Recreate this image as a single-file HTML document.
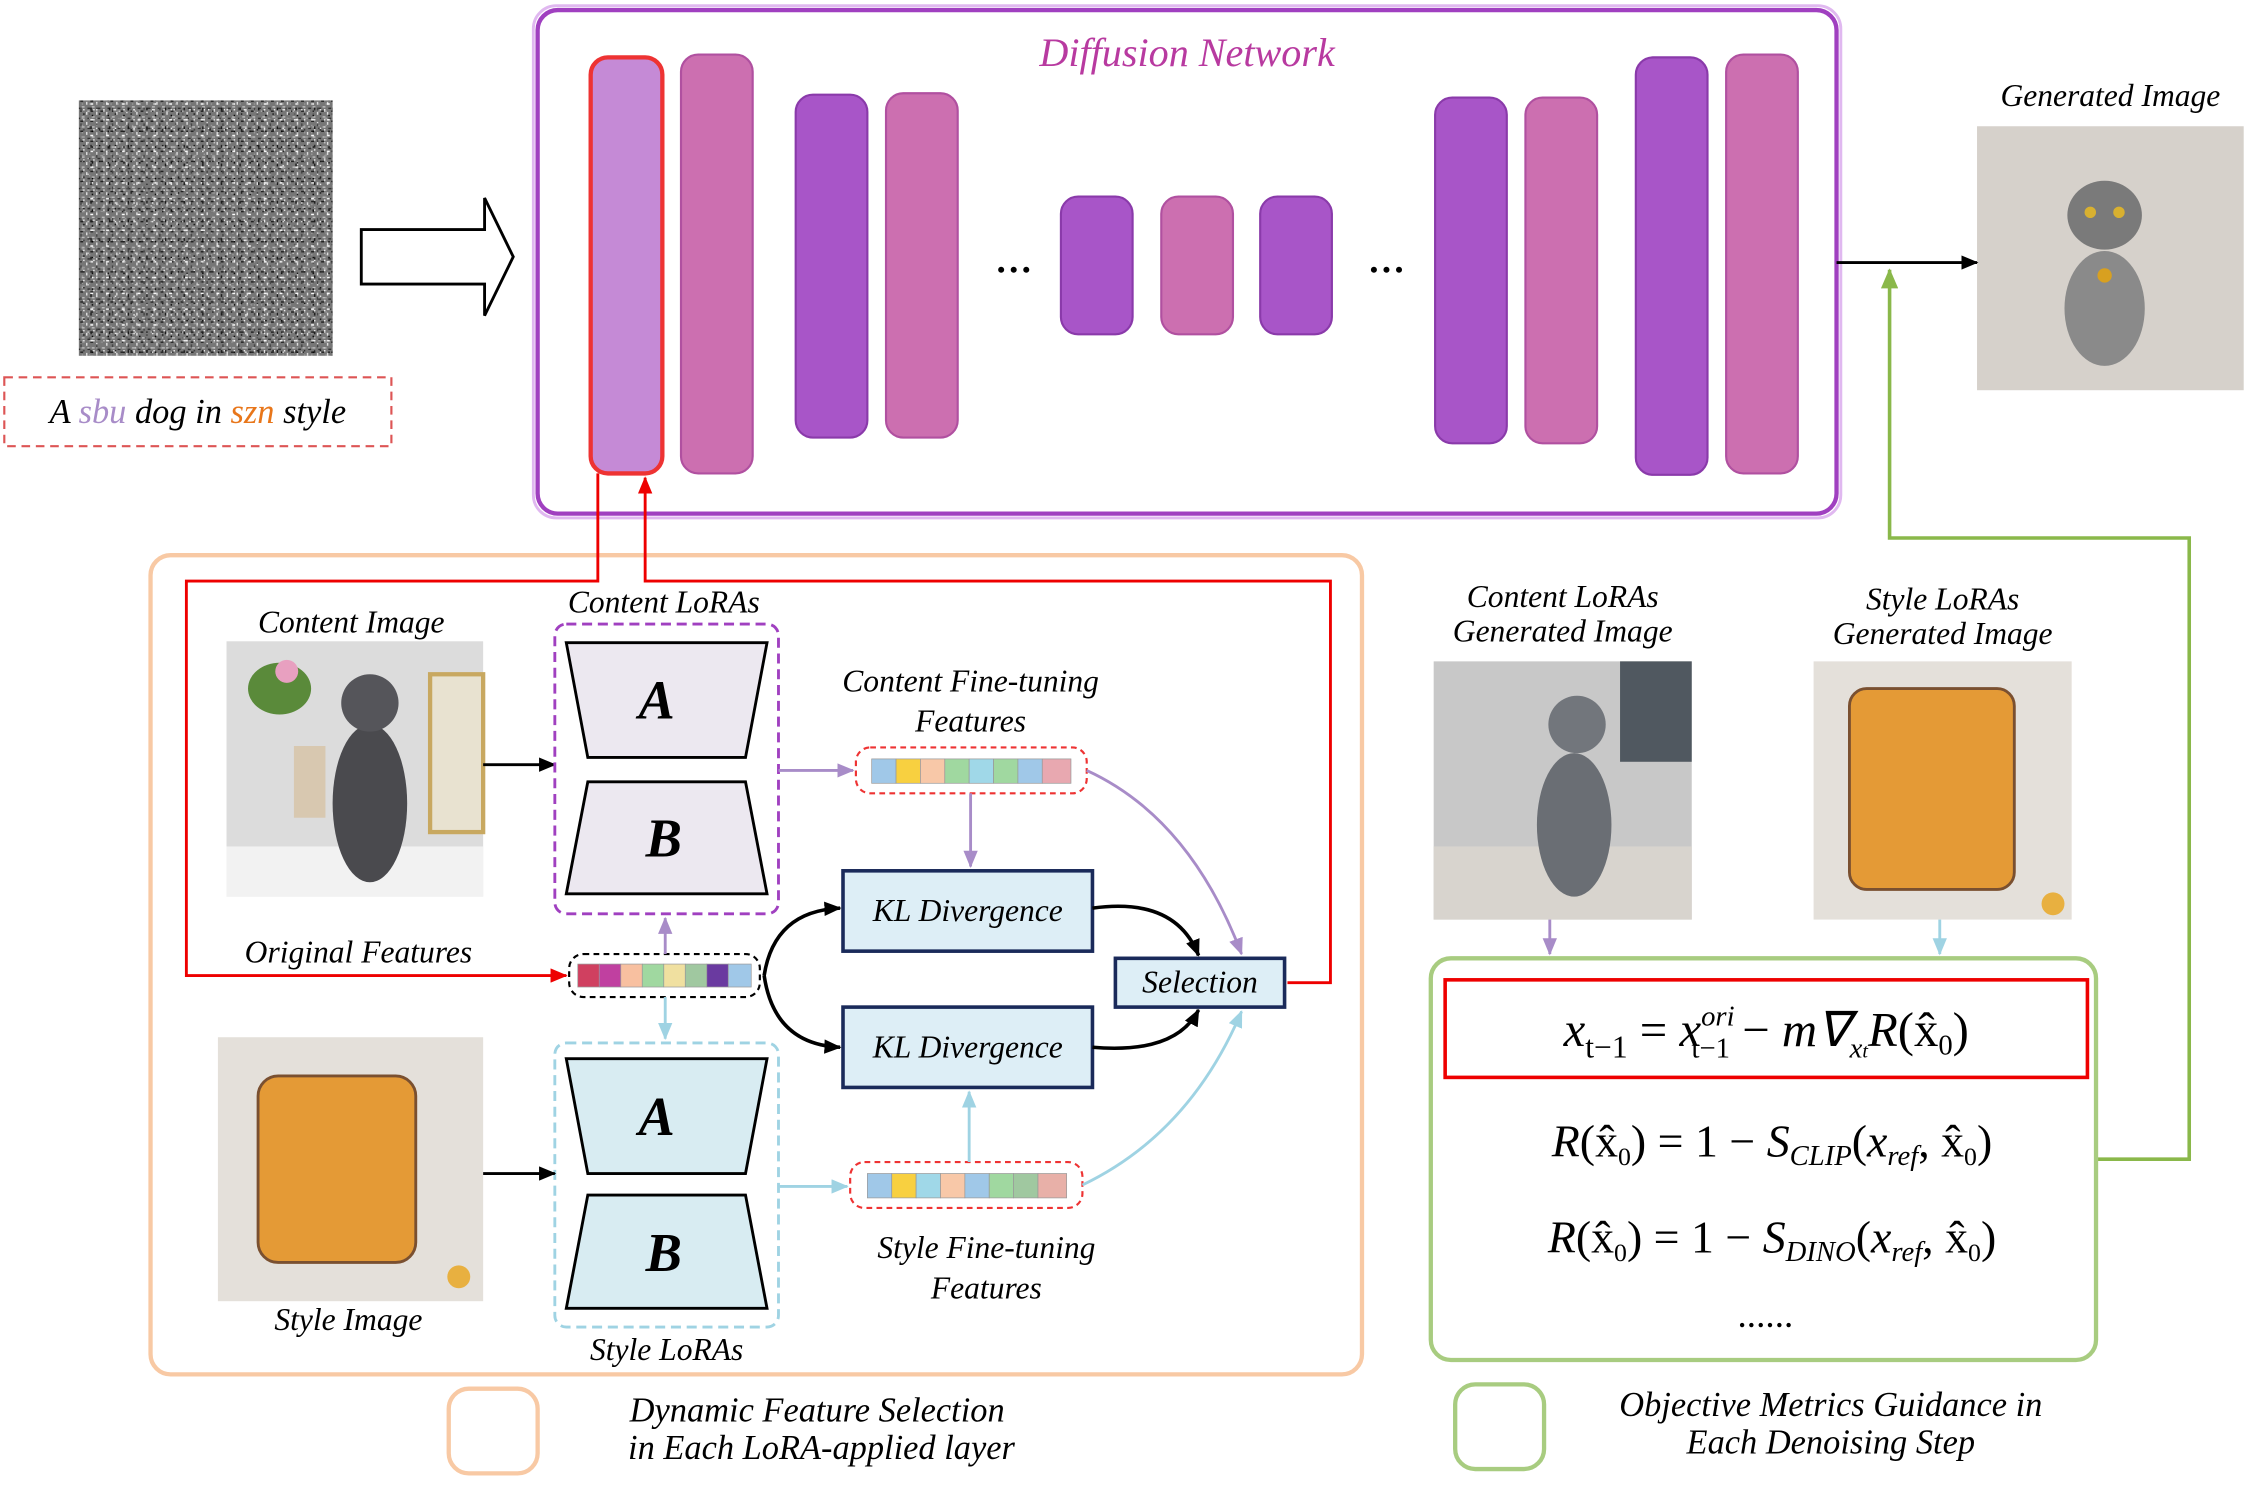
<!DOCTYPE html>
<html><head><meta charset="utf-8"><style>
html,body{margin:0;padding:0;background:#fff;}
svg{display:block;}
text{font-family:"Liberation Serif",serif;font-style:italic;}
</style></head><body>
<svg width="2248" height="1492" viewBox="0 0 1568 1040" preserveAspectRatio="none" xmlns="http://www.w3.org/2000/svg">
<defs>
<marker id="ak" markerWidth="12" markerHeight="10" refX="11" refY="5" orient="auto" markerUnits="userSpaceOnUse"><path d="M0,0 L12,5 L0,10z" fill="#000"/></marker>
<marker id="ar" markerWidth="12" markerHeight="10" refX="11" refY="5" orient="auto" markerUnits="userSpaceOnUse"><path d="M0,0 L12,5 L0,10z" fill="#e00"/></marker>
<marker id="ap" markerWidth="12" markerHeight="10" refX="11" refY="5" orient="auto" markerUnits="userSpaceOnUse"><path d="M0,0 L12,5 L0,10z" fill="#a88cc8"/></marker>
<marker id="ac" markerWidth="12" markerHeight="10" refX="11" refY="5" orient="auto" markerUnits="userSpaceOnUse"><path d="M0,0 L12,5 L0,10z" fill="#9fd3e3"/></marker>
<marker id="ag" markerWidth="14" markerHeight="12" refX="13" refY="6" orient="auto" markerUnits="userSpaceOnUse"><path d="M0,0 L14,6 L0,12z" fill="#8ab84a"/></marker>
<pattern id="n1" width="7" height="7" patternUnits="userSpaceOnUse">
<rect width="7" height="7" fill="#777"/><rect x="0" y="0" width="2" height="1" fill="#222"/><rect x="4" y="1" width="1" height="2" fill="#ddd"/><rect x="1" y="4" width="2" height="1" fill="#bbb"/><rect x="5" y="5" width="2" height="1" fill="#333"/><rect x="2" y="6" width="1" height="1" fill="#eee"/>
</pattern>
<pattern id="n2" width="11" height="11" patternUnits="userSpaceOnUse">
<rect x="3" y="2" width="1" height="1" fill="#111"/><rect x="8" y="6" width="2" height="1" fill="#fff"/><rect x="1" y="9" width="1" height="2" fill="#444"/><rect x="6" y="0" width="1" height="1" fill="#ccc"/><rect x="9" y="3" width="1" height="1" fill="#000"/>
</pattern>
<pattern id="n3" width="13" height="13" patternUnits="userSpaceOnUse">
<rect x="5" y="4" width="2" height="1" fill="#999"/><rect x="11" y="10" width="1" height="2" fill="#1a1a1a"/><rect x="2" y="11" width="1" height="1" fill="#f0f0f0"/><rect x="10" y="1" width="1" height="1" fill="#555"/>
</pattern>
<pattern id="n4" width="5" height="5" patternUnits="userSpaceOnUse">
<rect x="2" y="2" width="1" height="1" fill="#a8a8a8" opacity="0.7"/>
</pattern>
</defs>

<rect x="55" y="70" width="177" height="178" fill="url(#n1)"/>
<rect x="55" y="70" width="177" height="178" fill="url(#n2)"/>
<rect x="55" y="70" width="177" height="178" fill="url(#n3)"/>
<rect x="55" y="70" width="177" height="178" fill="url(#n4)"/>
<path d="M252,160 L338,160 L338,138 L358,179 L338,220 L338,198 L252,198 Z" fill="#fff" stroke="#000" stroke-width="2"/>
<rect x="3" y="263" width="270" height="48" fill="none" stroke="#d55" stroke-width="1.5" stroke-dasharray="6,4"/>
<text x="138" y="295" font-size="24" text-anchor="middle" fill="#000">A <tspan fill="#a88cc8">sbu</tspan> dog in <tspan fill="#e8761a">szn</tspan> style</text>

<rect x="375" y="7" width="906" height="351" rx="14" fill="#fff" stroke="#a040c0" stroke-width="3"/>
<rect x="372" y="4" width="912" height="357" rx="16" fill="none" stroke="#e0b8f0" stroke-width="2"/>
<text x="828" y="46" font-size="28" text-anchor="middle" fill="#b83aa0">Diffusion Network</text>
<g stroke-width="1.5">
<rect x="412" y="40" width="50" height="290" rx="12" fill="#c58ad6" stroke="#e33" stroke-width="3"/>
<rect x="475" y="38" width="50" height="292" rx="12" fill="#cc6fb0" stroke="#b050a0"/>
<rect x="555" y="66" width="50" height="239" rx="12" fill="#a855c8" stroke="#8a3aaa"/>
<rect x="618" y="65" width="50" height="240" rx="12" fill="#cc6fb0" stroke="#b050a0"/>
<rect x="740" y="137" width="50" height="96" rx="12" fill="#a855c8" stroke="#8a3aaa"/>
<rect x="810" y="137" width="50" height="96" rx="12" fill="#cc6fb0" stroke="#b050a0"/>
<rect x="879" y="137" width="50" height="96" rx="12" fill="#a855c8" stroke="#8a3aaa"/>
<rect x="1001" y="68" width="50" height="241" rx="12" fill="#a855c8" stroke="#8a3aaa"/>
<rect x="1064" y="68" width="50" height="241" rx="12" fill="#cc6fb0" stroke="#b050a0"/>
<rect x="1141" y="40" width="50" height="291" rx="12" fill="#a855c8" stroke="#8a3aaa"/>
<rect x="1204" y="38" width="50" height="292" rx="12" fill="#cc6fb0" stroke="#b050a0"/>
</g>
<text x="708" y="190" font-size="26" text-anchor="middle" fill="#000" font-style="normal" font-weight="bold">…</text>
<text x="968" y="190" font-size="26" text-anchor="middle" fill="#000" font-style="normal" font-weight="bold">…</text>

<text x="1472" y="74" font-size="22" text-anchor="middle">Generated Image</text>
<rect x="1379" y="88" width="186" height="184" fill="#d6d1cb"/>
<ellipse cx="1468" cy="215" rx="28" ry="40" fill="#8a8a8a"/>
<ellipse cx="1468" cy="150" rx="26" ry="24" fill="#7a7a7a"/>
<circle cx="1458" cy="148" r="4" fill="#d8b030"/><circle cx="1478" cy="148" r="4" fill="#d8b030"/>
<circle cx="1468" cy="192" r="5" fill="#d8a020"/>
<line x1="1281" y1="183" x2="1379" y2="183" stroke="#000" stroke-width="2" marker-end="url(#ak)"/>
<polyline points="1462,808 1527,808 1527,375 1318,375 1318,188" fill="none" stroke="#8ab84a" stroke-width="2.5" marker-end="url(#ag)"/>

<rect x="105" y="387" width="845" height="571" rx="14" fill="none" stroke="#f8c9a4" stroke-width="3"/>

<polyline points="417,330 417,405 130,405 130,680 395,680" fill="none" stroke="#e00" stroke-width="2" marker-end="url(#ar)"/>
<polyline points="898,685 928,685 928,405 450,405 450,333" fill="none" stroke="#e00" stroke-width="2" marker-end="url(#ar)"/>

<text x="245" y="441" font-size="22" text-anchor="middle">Content Image</text>
<rect x="158" y="447" width="179" height="178" fill="#dcdcdc"/>
<rect x="158" y="590" width="179" height="35" fill="#f2f2f2"/>
<rect x="300" y="470" width="37" height="110" fill="#e8e2d0" stroke="#c8a860" stroke-width="3"/>
<rect x="205" y="520" width="22" height="50" fill="#d8c8b0"/>
<ellipse cx="195" cy="480" rx="22" ry="18" fill="#5a8a3a"/>
<ellipse cx="200" cy="468" rx="8" ry="8" fill="#e8a0c0"/>
<ellipse cx="258" cy="560" rx="26" ry="55" fill="#4a4a4e"/>
<ellipse cx="258" cy="490" rx="20" ry="20" fill="#55555a"/>
<line x1="337" y1="533" x2="387" y2="533" stroke="#000" stroke-width="2" marker-end="url(#ak)"/>

<text x="463" y="427" font-size="22" text-anchor="middle">Content LoRAs</text>
<rect x="387" y="435" width="156" height="202" rx="8" fill="none" stroke="#a040c0" stroke-width="2" stroke-dasharray="7,4"/>
<path d="M395,448 L535,448 L520,528 L410,528 Z" fill="#ece8f0" stroke="#000" stroke-width="2"/>
<path d="M410,545 L520,545 L535,623 L395,623 Z" fill="#ece8f0" stroke="#000" stroke-width="2"/>
<text x="458" y="501" font-size="38" font-weight="bold" text-anchor="middle">A</text>
<text x="463" y="597" font-size="38" font-weight="bold" text-anchor="middle">B</text>

<rect x="387" y="727" width="156" height="198" rx="8" fill="none" stroke="#9fd3e3" stroke-width="2" stroke-dasharray="7,4"/>
<path d="M395,738 L535,738 L520,818 L410,818 Z" fill="#d8ecf2" stroke="#000" stroke-width="2"/>
<path d="M410,833 L520,833 L535,912 L395,912 Z" fill="#d8ecf2" stroke="#000" stroke-width="2"/>
<text x="458" y="791" font-size="38" font-weight="bold" text-anchor="middle">A</text>
<text x="463" y="886" font-size="38" font-weight="bold" text-anchor="middle">B</text>
<text x="465" y="948" font-size="22" text-anchor="middle">Style LoRAs</text>

<rect x="152" y="723" width="185" height="184" fill="#e4e0da"/>
<rect x="180" y="750" width="110" height="130" rx="14" fill="#e49a36" stroke="#7a5030" stroke-width="2"/>
<circle cx="320" cy="890" r="8" fill="#e8b040"/>
<text x="243" y="927" font-size="22" text-anchor="middle">Style Image</text>
<line x1="337" y1="818" x2="387" y2="818" stroke="#000" stroke-width="2" marker-end="url(#ak)"/>

<text x="250" y="671" font-size="22" text-anchor="middle">Original Features</text>
<rect x="397" y="665" width="133" height="30" rx="10" fill="#fff" stroke="#000" stroke-width="1.5" stroke-dasharray="4,3"/>
<g stroke="#999" stroke-width="0.5">
<rect x="403" y="672" width="15" height="16" fill="#d04060"/><rect x="418" y="672" width="15" height="16" fill="#c040a0"/><rect x="433" y="672" width="15" height="16" fill="#f8c0a0"/><rect x="448" y="672" width="15" height="16" fill="#a0d8a0"/><rect x="463" y="672" width="15" height="16" fill="#f0e0a0"/><rect x="478" y="672" width="15" height="16" fill="#a0c8a0"/><rect x="493" y="672" width="15" height="16" fill="#6a3aa0"/><rect x="508" y="672" width="16" height="16" fill="#a0c8e8"/>
</g>
<line x1="464" y1="665" x2="464" y2="640" stroke="#a88cc8" stroke-width="2" marker-end="url(#ap)"/>
<line x1="464" y1="695" x2="464" y2="724" stroke="#9fd3e3" stroke-width="2" marker-end="url(#ac)"/>

<text x="677" y="482" font-size="22" text-anchor="middle">Content Fine-tuning</text>
<text x="677" y="510" font-size="22" text-anchor="middle">Features</text>
<rect x="597" y="521" width="161" height="32" rx="10" fill="#fff" stroke="#e33" stroke-width="1.5" stroke-dasharray="4,3"/>
<g stroke="#999" stroke-width="0.5">
<rect x="608" y="529" width="17" height="17" fill="#a0c8e8"/><rect x="625" y="529" width="17" height="17" fill="#f8d040"/><rect x="642" y="529" width="17" height="17" fill="#f8c8a8"/><rect x="659" y="529" width="17" height="17" fill="#a0d8a0"/><rect x="676" y="529" width="17" height="17" fill="#a0d8e8"/><rect x="693" y="529" width="17" height="17" fill="#a0d8a0"/><rect x="710" y="529" width="17" height="17" fill="#a0c8e8"/><rect x="727" y="529" width="20" height="17" fill="#e8a8b0"/>
</g>
<line x1="543" y1="537" x2="595" y2="537" stroke="#a88cc8" stroke-width="2" marker-end="url(#ap)"/>
<line x1="677" y1="553" x2="677" y2="604" stroke="#a88cc8" stroke-width="2" marker-end="url(#ap)"/>
<path d="M758,537 Q830,570 866,665" fill="none" stroke="#a88cc8" stroke-width="2" marker-end="url(#ap)"/>

<rect x="593" y="810" width="162" height="32" rx="10" fill="#fff" stroke="#e33" stroke-width="1.5" stroke-dasharray="4,3"/>
<g stroke="#999" stroke-width="0.5">
<rect x="605" y="818" width="17" height="17" fill="#a0c8e8"/><rect x="622" y="818" width="17" height="17" fill="#f8d040"/><rect x="639" y="818" width="17" height="17" fill="#a0d8e8"/><rect x="656" y="818" width="17" height="17" fill="#f8c8a8"/><rect x="673" y="818" width="17" height="17" fill="#a0c8e8"/><rect x="690" y="818" width="17" height="17" fill="#a0d8a0"/><rect x="707" y="818" width="17" height="17" fill="#a0c8a0"/><rect x="724" y="818" width="20" height="17" fill="#e8b0a8"/>
</g>
<text x="688" y="877" font-size="22" text-anchor="middle">Style Fine-tuning</text>
<text x="688" y="905" font-size="22" text-anchor="middle">Features</text>
<line x1="543" y1="827" x2="591" y2="827" stroke="#9fd3e3" stroke-width="2" marker-end="url(#ac)"/>
<line x1="676" y1="810" x2="676" y2="761" stroke="#9fd3e3" stroke-width="2" marker-end="url(#ac)"/>
<path d="M755,826 Q830,790 866,705" fill="none" stroke="#9fd3e3" stroke-width="2" marker-end="url(#ac)"/>

<rect x="588" y="607" width="174" height="56" fill="#ddeef6" stroke="#1a2a5a" stroke-width="2.5"/>
<text x="675" y="642" font-size="22" text-anchor="middle">KL Divergence</text>
<rect x="588" y="702" width="174" height="56" fill="#ddeef6" stroke="#1a2a5a" stroke-width="2.5"/>
<text x="675" y="737" font-size="22" text-anchor="middle">KL Divergence</text>
<path d="M533,680 Q540,635 586,633" fill="none" stroke="#000" stroke-width="2.5" marker-end="url(#ak)"/>
<path d="M533,680 Q540,728 586,730" fill="none" stroke="#000" stroke-width="2.5" marker-end="url(#ak)"/>
<path d="M762,633 Q820,625 836,666" fill="none" stroke="#000" stroke-width="2.5" marker-end="url(#ak)"/>
<path d="M762,730 Q820,735 836,704" fill="none" stroke="#000" stroke-width="2.5" marker-end="url(#ak)"/>
<rect x="778" y="668" width="118" height="34" fill="#ddeef6" stroke="#1a2a5a" stroke-width="2.5"/>
<text x="837" y="692" font-size="22" text-anchor="middle">Selection</text>

<text x="1090" y="423" font-size="22" text-anchor="middle">Content LoRAs</text>
<text x="1090" y="447" font-size="22" text-anchor="middle">Generated Image</text>
<rect x="1000" y="461" width="180" height="180" fill="#c8c8c8"/>
<rect x="1000" y="590" width="180" height="51" fill="#d8d4ce"/>
<rect x="1130" y="461" width="50" height="70" fill="#505860"/>
<ellipse cx="1098" cy="575" rx="26" ry="50" fill="#6a6e74"/>
<ellipse cx="1100" cy="505" rx="20" ry="20" fill="#72767c"/>
<text x="1355" y="425" font-size="22" text-anchor="middle">Style LoRAs</text>
<text x="1355" y="449" font-size="22" text-anchor="middle">Generated Image</text>
<rect x="1265" y="461" width="180" height="180" fill="#e4e0da"/>
<rect x="1290" y="480" width="115" height="140" rx="12" fill="#e49a36" stroke="#7a5030" stroke-width="2"/>
<circle cx="1432" cy="630" r="8" fill="#e8b040"/>
<line x1="1081" y1="641" x2="1081" y2="665" stroke="#a88cc8" stroke-width="2" marker-end="url(#ap)"/>
<line x1="1353" y1="641" x2="1353" y2="665" stroke="#9fd3e3" stroke-width="2" marker-end="url(#ac)"/>

<rect x="998" y="668" width="464" height="280" rx="14" fill="#fff" stroke="#a8cc80" stroke-width="3"/>
<rect x="1008" y="683" width="448" height="68" fill="none" stroke="#e00" stroke-width="2.5"/>
<text x="1232" y="729" font-size="34" text-anchor="middle">x<tspan font-size="22" dy="8" font-style="normal">t−1</tspan><tspan dy="-8" font-style="normal"> = </tspan>x<tspan font-size="20" dy="-14">ori</tspan><tspan font-size="20" dx="-30" dy="22" font-style="normal">t−1</tspan><tspan dy="-8" font-style="normal"> − </tspan>m∇<tspan font-size="20" dy="8">x<tspan font-size="14">t</tspan></tspan><tspan dy="-8">R</tspan><tspan font-style="normal">(x̂<tspan font-size="20" dy="6">0</tspan><tspan dy="-6">)</tspan></tspan></text>
<text x="1236" y="806" font-size="32" text-anchor="middle">R<tspan font-style="normal">(x̂<tspan font-size="18" dy="6">0</tspan><tspan dy="-6">) = 1 − </tspan></tspan>S<tspan font-size="20" dy="6">CLIP</tspan><tspan dy="-6" font-style="normal">(</tspan>x<tspan font-size="20" dy="6">ref</tspan><tspan dy="-6" font-style="normal">, x̂</tspan><tspan font-size="18" dy="6" font-style="normal">0</tspan><tspan dy="-6" font-style="normal">)</tspan></text>
<text x="1236" y="873" font-size="32" text-anchor="middle">R<tspan font-style="normal">(x̂<tspan font-size="18" dy="6">0</tspan><tspan dy="-6">) = 1 − </tspan></tspan>S<tspan font-size="20" dy="6">DINO</tspan><tspan dy="-6" font-style="normal">(</tspan>x<tspan font-size="20" dy="6">ref</tspan><tspan dy="-6" font-style="normal">, x̂</tspan><tspan font-size="18" dy="6" font-style="normal">0</tspan><tspan dy="-6" font-style="normal">)</tspan></text>
<text x="1232" y="925" font-size="26" text-anchor="middle" font-style="normal">......</text>

<rect x="313" y="968" width="62" height="59" rx="14" fill="none" stroke="#f8c9a4" stroke-width="3"/>
<text x="570" y="991" font-size="24" text-anchor="middle">Dynamic Feature Selection</text>
<text x="573" y="1017" font-size="24" text-anchor="middle">in Each LoRA-applied layer</text>
<rect x="1015" y="965" width="62" height="59" rx="14" fill="none" stroke="#a8cc80" stroke-width="3"/>
<text x="1277" y="987" font-size="24" text-anchor="middle">Objective Metrics Guidance in</text>
<text x="1277" y="1013" font-size="24" text-anchor="middle">Each Denoising Step</text>
</svg>
</body></html>
